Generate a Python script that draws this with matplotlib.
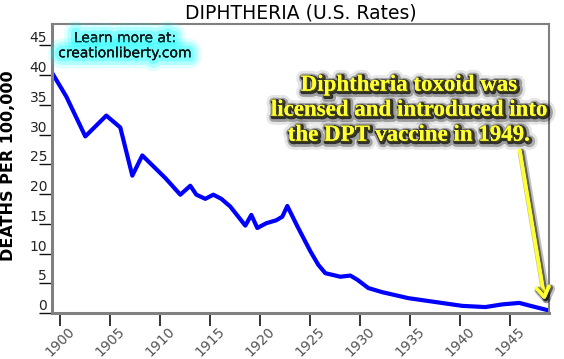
import matplotlib
matplotlib.use('Agg')
import matplotlib.pyplot as plt
import matplotlib.patheffects as pe

# данные
years = [1899.3, 1900.6, 1902.5, 1904.6, 1906.0, 1907.2, 1908.2, 1910.5, 1912.0, 1913.0,
         1913.6, 1914.5, 1915.3, 1916.1, 1917.0, 1918.5, 1919.1, 1919.7, 1920.6, 1921.6,
         1922.2, 1922.7, 1923.7, 1925.0, 1925.8, 1926.5, 1928.0, 1929.0, 1929.7, 1930.8,
         1932.2, 1934.8, 1937.5, 1940.2, 1942.5, 1944.2, 1945.9, 1946.8, 1948.8]
deaths = [40.05, 36.4, 29.7, 33.2, 31.2, 23.1, 26.5, 22.7, 19.9, 21.4,
          19.9, 19.2, 19.9, 19.2, 17.9, 14.7, 16.5, 14.3, 15.1, 15.6,
          16.2, 18.0, 14.6, 10.4, 8.1, 6.7, 6.1, 6.3, 5.6, 4.2,
          3.5, 2.5, 1.85, 1.2, 1.0, 1.45, 1.7, 1.3, 0.45]
x_ticks = [1900, 1905, 1910, 1915, 1920, 1925, 1930, 1935, 1940, 1945]
y_ticks = [0, 5, 10, 15, 20, 25, 30, 35, 40, 45]

title = 'DIPHTHERIA (U.S. Rates)'
ylabel = 'DEATHS PER 100,000'
note = 'Learn more at:\ncreationliberty.com'
callout = 'Diphtheria toxoid was\nlicensed and introduced into\nthe DPT vaccine in 1949.'

fig = plt.figure(figsize=(5.64, 3.59), dpi=100)
ax = fig.add_axes([0.0922, 0.1281, 0.8807, 0.8050])

ax.plot(years, deaths, color='#0000ff', lw=3, solid_joinstyle='round')

ax.set_xlim(1899.17, 1948.84)
ax.set_ylim(0, 48.6)
ax.set_xticks(x_ticks)
ax.set_yticks(y_ticks)

for side in ['left', 'bottom']:
    ax.spines[side].set_color('#808080')
    ax.spines[side].set_linewidth(2.2)
for side in ['top', 'right']:
    ax.spines[side].set_color('#808080')
    ax.spines[side].set_linewidth(1.5)

ax.tick_params(axis='x', length=9, width=1.2, color='#111111', pad=-1,
               labelsize=10, labelcolor='#555555')
ax.tick_params(axis='y', length=9.5, width=1.0, color='#111111', pad=-6,
               labelsize=10, labelcolor='#222222')
for lab in ax.get_xticklabels():
    lab.set_rotation(45)
    lab.set_ha('center')
    lab.set_va('top')
for lab in ax.get_yticklabels():
    lab.set_va('bottom')

ax.set_title(title, fontsize=13.5, pad=4)
ax.set_ylabel(ylabel, fontsize=11.5, fontweight='bold')
ax.yaxis.set_label_coords(-0.072, 0.51)

# голубое свечение вокруг ссылки
glow = [pe.withStroke(linewidth=16, foreground='#00ffff', alpha=0.12),
        pe.withStroke(linewidth=11, foreground='#00ffff', alpha=0.2),
        pe.withStroke(linewidth=6, foreground='#40ffff', alpha=0.45),
        pe.Normal()]
ax.text(0.147, 0.925, note, transform=ax.transAxes, ha='center', va='center',
        fontsize=10, color='#111111', linespacing=1.1, path_effects=glow)

# жёлтая подпись с тенью
shadow = [pe.withStroke(linewidth=10, foreground='black', alpha=0.1, offset=(1.5, -1.5)),
          pe.withStroke(linewidth=6, foreground='black', alpha=0.3, offset=(1.5, -1.5)),
          pe.withStroke(linewidth=3, foreground='black', alpha=0.7, offset=(1, -1)),
          pe.Normal()]
ax.text(0.718, 0.702, callout, transform=ax.transAxes, ha='center', va='center',
        fontsize=16.5, fontweight='bold', family='Liberation Serif', color='#ffff33',
        linespacing=1.25, path_effects=shadow)

ax.annotate('', xy=(1948.5, 1.7), xytext=(1945.9, 27.8),
            arrowprops=dict(arrowstyle='->, head_length=0.7, head_width=0.45',
                            color='#ffff33', lw=2.5,
                            path_effects=[pe.withStroke(linewidth=6, foreground='black',
                                                        alpha=0.25, offset=(1.5, -1.5)),
                                          pe.withStroke(linewidth=4, foreground='black',
                                                        alpha=0.5, offset=(1, -1)),
                                          pe.Normal()]))

plt.savefig('out.png', dpi=100)
